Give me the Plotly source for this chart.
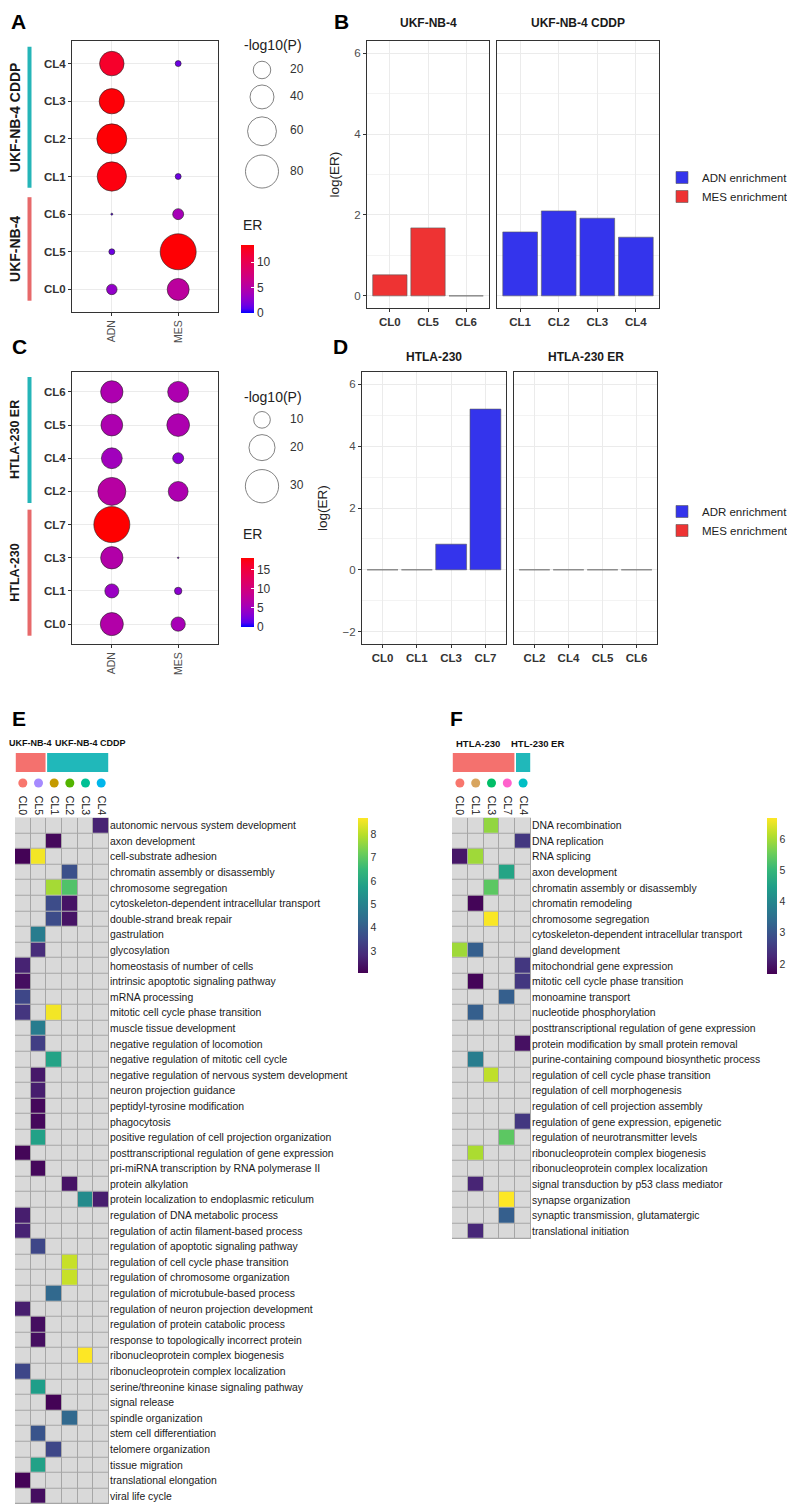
import math
import plotly.graph_objects as go

W, H = 795, 1508          # browser window
OX, OY = 8, 8             # default page margin of the html body
FW, FH = W - OX, H - OY   # figure size
FONT = "Liberation Sans, Arial, sans-serif"

# ------------------------------------------------------------------ data
# Panel A (UKF-NB-4 bubbles)
a_clusters = ["CL0", "CL5", "CL6", "CL1", "CL2", "CL3", "CL4"]
a_groups = ["ADN", "MES"]
a_adn_logp = [6.0, 1.3, 0.0, 62, 65, 45, 42]
a_mes_logp = [33, 96, 6.7, 1.3, None, None, 1.3]
a_adn_er = [3.0, 1.5, 1.0, 13.0, 13.3, 13.2, 12.0]
a_mes_er = [5.5, 13.3, 4.0, 1.5, None, None, 1.5]
a_size_legend = [20, 40, 60, 80]
a_strip_groups = [("UKF-NB-4", ["CL0", "CL5", "CL6"]), ("UKF-NB-4 CDDP", ["CL1", "CL2", "CL3", "CL4"])]

# Panel B
b_left_clusters = ["CL0", "CL5", "CL6"]
b_left_vals = [0.52, 1.68, 0.0]
b_right_clusters = ["CL1", "CL2", "CL3", "CL4"]
b_right_vals = [1.58, 2.10, 1.92, 1.45]

# Panel C (HTLA-230 bubbles)
c_clusters = ["CL0", "CL1", "CL3", "CL7", "CL2", "CL4", "CL5", "CL6"]
c_adn_logp = [16.4, 7.8, 15.6, 34.3, 22.5, 14.0, 15.0, 15.6]
c_mes_logp = [8.0, 3.5, 0.8, None, 13.0, 5.6, 16.0, 14.2]
c_adn_er = [6.5, 4.5, 6.5, 18.0, 7.0, 5.0, 6.0, 6.0]
c_mes_er = [5.5, 3.5, 3.0, None, 6.0, 3.5, 6.0, 6.0]
c_size_legend = [10, 20, 30]
c_strip_groups = [("HTLA-230", ["CL0", "CL1", "CL3", "CL7"]), ("HTLA-230 ER", ["CL2", "CL4", "CL5", "CL6"])]

# Panel D
d_left_clusters = ["CL0", "CL1", "CL3", "CL7"]
d_left_vals = [0.0, 0.0, 0.83, 5.2]
d_right_clusters = ["CL2", "CL4", "CL5", "CL6"]
d_right_vals = [0.0, 0.0, 0.0, 0.0]

# Panel E heatmap
e_columns = ["CL0", "CL5", "CL1", "CL2", "CL3", "CL4"]
e_dot_colors = ["#F8766D", "#A58AFF", "#C49A00", "#53B400", "#00C094", "#00B6EB"]
e_groups = [("UKF-NB-4", ["CL0", "CL5"]), ("UKF-NB-4 CDDP", ["CL1", "CL2", "CL3", "CL4"])]
e_terms = [
    "autonomic nervous system development", "axon development", "cell-substrate adhesion",
    "chromatin assembly or disassembly", "chromosome segregation",
    "cytoskeleton-dependent intracellular transport", "double-strand break repair",
    "gastrulation", "glycosylation", "homeostasis of number of cells",
    "intrinsic apoptotic signaling pathway", "mRNA processing",
    "mitotic cell cycle phase transition", "muscle tissue development",
    "negative regulation of locomotion", "negative regulation of mitotic cell cycle",
    "negative regulation of nervous system development", "neuron projection guidance",
    "peptidyl-tyrosine modification", "phagocytosis",
    "positive regulation of cell projection organization",
    "posttranscriptional regulation of gene expression",
    "pri-miRNA transcription by RNA polymerase II", "protein alkylation",
    "protein localization to endoplasmic reticulum", "regulation of DNA metabolic process",
    "regulation of actin filament-based process", "regulation of apoptotic signaling pathway",
    "regulation of cell cycle phase transition", "regulation of chromosome organization",
    "regulation of microtubule-based process", "regulation of neuron projection development",
    "regulation of protein catabolic process", "response to topologically incorrect protein",
    "ribonucleoprotein complex biogenesis", "ribonucleoprotein complex localization",
    "serine/threonine kinase signaling pathway", "signal release", "spindle organization",
    "stem cell differentiation", "telomere organization", "tissue migration",
    "translational elongation", "viral life cycle",
]
N = None
e_values = [
    [N, N, N, N, N, 2.7],
    [N, N, 2.2, N, N, N],
    [2.1, 8.6, N, N, N, N],
    [N, N, N, 3.7, N, N],
    [N, N, 7.8, 6.85, N, N],
    [N, N, 3.6, 2.4, N, N],
    [N, N, 3.6, 2.4, N, N],
    [N, 4.85, N, N, N, N],
    [N, 2.9, N, N, N, N],
    [2.7, N, N, N, N, N],
    [2.3, N, N, N, N, N],
    [3.5, N, N, N, N, N],
    [3.1, N, 8.6, N, N, N],
    [N, 4.85, N, N, N, N],
    [N, 3.3, N, N, N, N],
    [N, N, 5.9, N, N, N],
    [N, 2.5, N, N, N, N],
    [N, 2.6, N, N, N, N],
    [N, 2.2, N, N, N, N],
    [N, 2.2, N, N, N, N],
    [N, 5.85, N, N, N, N],
    [2.15, N, N, N, N, N],
    [N, 2.2, N, N, N, N],
    [N, N, N, 2.4, N, N],
    [N, N, N, N, 5.25, 2.6],
    [2.6, N, N, N, N, N],
    [2.7, N, N, N, N, N],
    [N, 3.5, N, N, N, N],
    [N, N, N, 8.15, N, N],
    [N, N, N, 8.15, N, N],
    [N, N, 4.3, N, N, N],
    [2.6, N, N, N, N, N],
    [N, 2.3, N, N, N, N],
    [N, 2.3, N, N, N, N],
    [N, N, N, N, 8.7, N],
    [3.5, N, N, N, N, N],
    [N, 5.75, N, N, N, N],
    [N, N, 2.1, N, N, N],
    [N, N, N, 4.3, N, N],
    [N, 3.8, N, N, N, N],
    [N, N, 3.5, N, N, N],
    [N, 5.85, N, N, N, N],
    [2.1, N, N, N, N, N],
    [N, 2.3, N, N, N, N],
]
e_ticks = [3, 4, 5, 6, 7, 8]
e_zrange = [2.06, 8.7]

# Panel F heatmap
f_columns = ["CL0", "CL1", "CL3", "CL7", "CL4"]
f_dot_colors = ["#F8766D", "#D8A55F", "#00BE67", "#FF61CC", "#00BFC4"]
f_groups = [("HTLA-230", ["CL0", "CL1", "CL3", "CL7"]), ("HTL-230 ER", ["CL4"])]
f_terms = [
    "DNA recombination", "DNA replication", "RNA splicing", "axon development",
    "chromatin assembly or disassembly", "chromatin remodeling", "chromosome segregation",
    "cytoskeleton-dependent intracellular transport", "gland development",
    "mitochondrial gene expression", "mitotic cell cycle phase transition",
    "monoamine transport", "nucleotide phosphorylation",
    "posttranscriptional regulation of gene expression",
    "protein modification by small protein removal",
    "purine-containing compound biosynthetic process",
    "regulation of cell cycle phase transition", "regulation of cell morphogenesis",
    "regulation of cell projection assembly", "regulation of gene expression, epigenetic",
    "regulation of neurotransmitter levels", "ribonucleoprotein complex biogenesis",
    "ribonucleoprotein complex localization", "signal transduction by p53 class mediator",
    "synapse organization", "synaptic transmission, glutamatergic", "translational initiation",
]
f_values = [
    [N, N, 5.85, N, N],
    [N, N, N, N, 2.5],
    [2.0, 5.95, N, N, N],
    [N, N, N, 4.6, N],
    [N, N, 5.4, N, N],
    [N, 1.75, N, N, N],
    [N, N, 6.65, N, N],
    [N, N, N, N, N],
    [5.95, 3.2, N, N, N],
    [N, N, N, N, 2.5],
    [N, 1.75, N, N, 2.5],
    [N, N, N, 3.2, N],
    [N, 3.2, N, N, N],
    [N, N, N, N, N],
    [N, N, N, N, 1.9],
    [N, 3.8, N, N, N],
    [N, N, 6.2, N, N],
    [N, N, N, N, N],
    [N, N, N, N, N],
    [N, N, N, N, 2.5],
    [N, N, N, 5.4, N],
    [N, 6.05, N, N, N],
    [N, N, N, N, N],
    [N, 2.2, N, N, N],
    [N, N, N, 6.68, N],
    [N, N, N, 3.2, N],
    [N, 2.25, N, N, N],
]
f_ticks = [2, 3, 4, 5, 6]
f_zrange = [1.69, 6.68]

# ------------------------------------------------------------------ helpers
def px(x):
    return (x - OX) / FW


def py(y):
    return 1 - (y - OY) / FH


def xd(a, b):
    return [px(a), px(b)]


def yd(top, bottom):
    return [py(bottom), py(top)]


def _lin(c):
    c = c / 255.0
    return c / 12.92 if c <= 0.04045 else ((c + 0.055) / 1.055) ** 2.4


def _gam(c):
    c = max(0.0, min(1.0, c))
    v = 12.92 * c if c <= 0.0031308 else 1.055 * c ** (1 / 2.4) - 0.055
    return int(round(max(0.0, min(1.0, v)) * 255))


def rgb_to_lab(rgb):
    r, g, b = [_lin(v) for v in rgb]
    X = (0.4124 * r + 0.3576 * g + 0.1805 * b) / 0.95047
    Y = (0.2126 * r + 0.7152 * g + 0.0722 * b)
    Z = (0.0193 * r + 0.1192 * g + 0.9505 * b) / 1.08883
    f = lambda t: t ** (1 / 3) if t > 0.008856 else 7.787 * t + 16 / 116
    fx, fy, fz = f(X), f(Y), f(Z)
    return (116 * fy - 16, 500 * (fx - fy), 200 * (fy - fz))


def lab_to_hex(lab):
    L, a, b = lab
    fy = (L + 16) / 116
    fx = fy + a / 500
    fz = fy - b / 200
    finv = lambda t: t ** 3 if t ** 3 > 0.008856 else (t - 16 / 116) / 7.787
    X, Y, Z = finv(fx) * 0.95047, finv(fy), finv(fz) * 1.08883
    r = 3.2406 * X - 1.5372 * Y - 0.4986 * Z
    g = -0.9689 * X + 1.8758 * Y + 0.0415 * Z
    bb = 0.0557 * X - 0.2040 * Y + 1.0570 * Z
    return "#%02x%02x%02x" % (_gam(r), _gam(g), _gam(bb))


def lab_scale(c0, c1, n=16):
    l0, l1 = rgb_to_lab(c0), rgb_to_lab(c1)
    out = []
    for i in range(n + 1):
        t = i / n
        out.append([t, lab_to_hex(tuple(l0[k] + (l1[k] - l0[k]) * t for k in range(3)))])
    return out


ER_SCALE = lab_scale((0, 0, 255), (255, 0, 0))


def size_a(v):
    return max(1.5, 2 + 3.47 * math.sqrt(v))


def size_c(v):
    return max(1.5, -6 + 7.17 * math.sqrt(v))


GRID = "#EBEBEB"
BORDER = "#333333"
TICKC = "#4D4D4D"

fig = go.Figure()
annotations = []
shapes = []


def panel_letter(t, x, y, anchor="middle"):
    annotations.append(dict(text="<b>%s</b>" % t, x=px(x), y=py(y), xref="paper", yref="paper",
                            showarrow=False, xanchor="left", yanchor=anchor,
                            font=dict(size=21, color="black", family=FONT)))


def ann(text, x, y, size, bold=False, xanchor="center", angle=0, color="#1a1a1a"):
    annotations.append(dict(text=("<b>%s</b>" % text) if bold else text, x=px(x), y=py(y),
                            xref="paper", yref="paper", showarrow=False, xanchor=xanchor,
                            yanchor="middle", textangle=angle,
                            font=dict(size=size, color=color, family=FONT)))


# ------------------------------------------------------------------ bubble panels
def bubble_panel(xa, ya, clusters, adn_p, mes_p, adn_er, mes_er, sizef, cmax, cb_mid, cb_len, ticks):
    xs, ys, ss, cs = [], [], [], []
    for grp, pv, ev in (("ADN", adn_p, adn_er), ("MES", mes_p, mes_er)):
        for cl, p, e in zip(clusters, pv, ev):
            if p is None:
                continue
            xs.append(grp)
            ys.append(cl)
            ss.append(sizef(p))
            cs.append(e)
    fig.add_trace(go.Scatter(
        x=xs, y=ys, mode="markers", xaxis=xa, yaxis=ya, showlegend=False, cliponaxis=False,
        marker=dict(size=ss, color=cs, colorscale=ER_SCALE, cmin=0, cmax=cmax, opacity=1,
                    line=dict(color="#222222", width=0.6),
                    showscale=True,
                    colorbar=dict(x=px(241), xanchor="left", xpad=0, y=py(cb_mid), yanchor="middle",
                                  len=cb_len, lenmode="pixels", thickness=13, outlinewidth=0,
                                  tickvals=ticks, ticks="inside", ticklen=3, tickcolor="white",
                                  tickfont=dict(size=12, color="#333333", family=FONT),
                                  ypad=0)),
    ))


bubble_panel("x", "y", a_clusters, a_adn_logp, a_mes_logp, a_adn_er, a_mes_er, size_a, 13.4, 279, 68, [0, 5, 10])
bubble_panel("x4", "y4", c_clusters, c_adn_logp, c_mes_logp, c_adn_er, c_mes_er, size_c, 18.0, 592.5, 69, [0, 5, 10, 15])


def size_legend(values, sizef, top, title_y):
    ds = [sizef(v) for v in values]
    ys, cur = [], top
    for d in ds:
        h = 1.3 * d
        ys.append(cur + h / 2)
        cur += h
    fig.add_trace(go.Scatter(x=[262] * len(values), y=ys, mode="markers", xaxis="x11", yaxis="y11",
                             showlegend=False, cliponaxis=False,
                             marker=dict(size=ds, color="white", line=dict(color="#222222", width=0.8))))
    fig.add_trace(go.Scatter(x=[290] * len(values), y=ys, mode="text", text=[str(v) for v in values],
                             textposition="middle right", xaxis="x11", yaxis="y11", showlegend=False,
                             cliponaxis=False, textfont=dict(size=12, color="#333333", family=FONT)))
    ann("-log10(P)", 242, title_y, 14, xanchor="left", color="#222222")


size_legend(a_size_legend, size_a, 58.6, 45)
size_legend(c_size_legend, size_c, 409, 397)
ann("ER", 241, 225, 14, xanchor="left", color="#222222")
ann("ER", 241, 534, 14, xanchor="left", color="#222222")


def strips(groups, clusters, yref, colors, label_size, lo_pad, hi_pad):
    for (name, members), col in zip(groups, colors):
        idx = [clusters.index(m) for m in members]
        y0, y1 = min(idx) - lo_pad, max(idx) + hi_pad
        shapes.append(dict(type="rect", xref="paper", yref=yref, x0=px(27.5), x1=px(31.5), y0=y0, y1=y1,
                           fillcolor=col, line=dict(width=0), layer="above"))
        annotations.append(dict(text="<b>%s</b>" % name, xref="paper", yref=yref, x=px(15),
                                y=(y0 + y1) / 2, textangle=-90, showarrow=False,
                                xanchor="center", yanchor="middle",
                                font=dict(size=label_size, color="#1a1a1a", family=FONT)))


strips(a_strip_groups, a_clusters, "y", ["#E7696A", "#25B5B8"], 14, 0.3, 0.45)
strips(c_strip_groups, c_clusters, "y4", ["#E7696A", "#25B5B8"], 12.5, 0.35, 0.45)

# ------------------------------------------------------------------ bar panels
BLUE = "#3434EC"
RED = "#EE3333"
BARLINE = dict(color="#5A5A5A", width=0.6)

fig.add_trace(go.Bar(x=b_right_clusters, y=b_right_vals, xaxis="x3", yaxis="y3", name="ADN enrichment",
                     marker=dict(color=BLUE, line=BARLINE), width=0.9, legend="legend", legendrank=1))
fig.add_trace(go.Bar(x=b_left_clusters, y=b_left_vals, xaxis="x2", yaxis="y2", name="MES enrichment",
                     marker=dict(color=RED, line=BARLINE), width=0.9, legend="legend", legendrank=2))
fig.add_trace(go.Bar(x=d_left_clusters, y=d_left_vals, xaxis="x5", yaxis="y5", name="ADR enrichment",
                     marker=dict(color=BLUE, line=BARLINE), width=0.9, legend="legend2", legendrank=1,
                     legendgroup="adr"))
fig.add_trace(go.Bar(x=d_right_clusters, y=d_right_vals, xaxis="x6", yaxis="y6", name="ADR enrichment",
                     marker=dict(color=BLUE, line=BARLINE), width=0.9, legend="legend2", showlegend=False,
                     legendgroup="adr"))
fig.add_trace(go.Bar(x=[d_right_clusters[0]], y=[None], xaxis="x6", yaxis="y6", name="MES enrichment",
                     marker=dict(color=RED, line=BARLINE), width=0.9, legend="legend2", legendrank=2))

ann("UKF-NB-4", 428, 23, 12, bold=True)
ann("UKF-NB-4 CDDP", 578, 23, 12, bold=True)
ann("HTLA-230", 434, 357, 12, bold=True)
ann("HTLA-230 ER", 585.5, 357, 12, bold=True)

# ------------------------------------------------------------------ heatmaps
def heatmap_panel(xa, ya, cols, terms, vals, zr, ticks, cb_x, cb_top, cb_bottom):
    grid = [[0 for _ in cols] for _ in terms]
    fig.add_trace(go.Heatmap(z=grid, x=cols, y=terms, xaxis=xa, yaxis=ya, showscale=False,
                             colorscale=[[0, "#D9D9D9"], [1, "#D9D9D9"]], xgap=1, ygap=1,
                             hoverinfo="skip"))
    fig.add_trace(go.Heatmap(z=vals, x=cols, y=terms, xaxis=xa, yaxis=ya, colorscale="Viridis",
                             zmin=zr[0], zmax=zr[1], xgap=1, ygap=1,
                             colorbar=dict(x=px(cb_x), xanchor="left", xpad=0, ypad=0,
                                           y=py((cb_top + cb_bottom) / 2), yanchor="middle",
                                           len=cb_bottom - cb_top, lenmode="pixels", thickness=10,
                                           outlinewidth=0, tickvals=ticks, ticks="",
                                           tickfont=dict(size=10.5, color="#333333", family=FONT))))
    shapes.append(dict(type="rect", xref=xa, yref=ya, x0=-0.5, x1=len(cols) - 0.5, y0=-0.5,
                       y1=len(terms) - 0.5, fillcolor="#A6A6A6", line=dict(color="#A6A6A6", width=1),
                       layer="below"))


heatmap_panel("x7", "y7", e_columns, e_terms, e_values, e_zrange, e_ticks, 358, 817.7, 973)
heatmap_panel("x8", "y8", f_columns, f_terms, f_values, f_zrange, f_ticks, 767, 817.7, 973.7)


def header(xa, ya, cols, colors, groups, label_x, label_size):
    fig.add_trace(go.Scatter(x=cols, y=[0.5] * len(cols), xaxis=xa, yaxis=ya, mode="markers",
                             showlegend=False, cliponaxis=False, hoverinfo="skip",
                             marker=dict(size=9, color=colors, line=dict(width=0))))
    for (name, members), col, lx in zip(groups, ["#F4716E", "#20B8BA"], label_x):
        idx = [cols.index(m) for m in members]
        shapes.append(dict(type="rect", xref=xa, yref="paper", x0=min(idx) - 0.45, x1=max(idx) + 0.45,
                           y0=py(772), y1=py(753), fillcolor=col, line=dict(width=0)))
        ann(name, lx, 743, label_size, bold=True, color="#111111")


header("x7", "y9", e_columns, e_dot_colors, e_groups, [30, 90], 9)
header("x8", "y10", f_columns, f_dot_colors, f_groups, [478, 537], 9.5)

panel_letter("A", 9, 8.5, "top")
panel_letter("B", 332, 8.5, "top")
panel_letter("C", 10, 346)
panel_letter("D", 331, 347)
panel_letter("E", 10, 718)
panel_letter("F", 448, 718)

# ------------------------------------------------------------------ axes
def cat_axis(domain, cats, rng, anchor, **kw):
    d = dict(domain=domain, type="category", categoryorder="array", categoryarray=cats, range=rng,
             anchor=anchor, showgrid=True, gridcolor=GRID, gridwidth=1, zeroline=False,
             showline=True, mirror=True, linecolor=BORDER, linewidth=1,
             ticks="outside", ticklen=3, tickcolor=BORDER, fixedrange=True)
    d.update(kw)
    return d


bold_ticks = dict(size=11.5, color="#333333", family=FONT, weight="bold")
num_ticks = dict(size=11.5, color=TICKC, family=FONT)

layout_axes = dict(
    xaxis=cat_axis(xd(72, 218), a_groups, [-0.6, 1.6], "y", tickangle=-90,
                   tickfont=dict(size=10.5, color=TICKC, family=FONT)),
    yaxis=cat_axis(yd(41, 312), a_clusters, [-0.6, 6.6], "x", tickfont=bold_ticks),
    xaxis4=cat_axis(xd(72, 218), a_groups, [-0.6, 1.6], "y4", tickangle=-90,
                    tickfont=dict(size=10.5, color=TICKC, family=FONT)),
    yaxis4=cat_axis(yd(372, 644), c_clusters, [-0.6, 7.6], "x4", tickfont=bold_ticks),
    xaxis2=cat_axis(xd(367, 489), b_left_clusters, [-0.6, 2.6], "y2", tickfont=bold_ticks),
    xaxis3=cat_axis(xd(497, 659), b_right_clusters, [-0.6, 3.6], "y3", tickfont=bold_ticks),
    xaxis5=cat_axis(xd(362, 506), d_left_clusters, [-0.6, 3.6], "y5", tickfont=bold_ticks),
    xaxis6=cat_axis(xd(514, 657), d_right_clusters, [-0.6, 3.6], "y6", tickfont=bold_ticks),
)


def val_axis(domain, rng, anchor, show_labels, title=None):
    d = dict(domain=domain, range=rng, anchor=anchor, dtick=2, tick0=0, showgrid=True, gridcolor=GRID,
             gridwidth=1, zeroline=False, showline=True, mirror=True, linecolor=BORDER, linewidth=1,
             ticks="outside" if show_labels else "", ticklen=3, tickcolor=BORDER,
             showticklabels=show_labels, tickfont=num_ticks, fixedrange=True,
             minor=dict(dtick=1, tick0=0, showgrid=True, gridcolor="#F3F3F3", gridwidth=0.6))
    if title:
        d["title"] = dict(text=title, font=dict(size=13.5, color="#222222", family=FONT), standoff=11)
    return d


layout_axes.update(
    yaxis2=val_axis(yd(41, 308), [-0.3, 6.3], "x2", True, "log(ER)"),
    yaxis3=val_axis(yd(41, 308), [-0.3, 6.3], "x3", False),
    yaxis5=val_axis(yd(372, 644), [-2.4, 6.4], "x5", True, "log(ER)"),
    yaxis6=val_axis(yd(372, 644), [-2.4, 6.4], "x6", False),
)


def hm_x(domain, cols, anchor):
    return dict(domain=domain, type="category", categoryorder="array", categoryarray=cols,
                range=[-0.5, len(cols) - 0.5], anchor=anchor, side="top", tickangle=90,
                showgrid=False, zeroline=False, showline=False, ticks="",
                tickfont=dict(size=10.5, color="#111111", family=FONT), fixedrange=True)


def hm_y(domain, terms, anchor):
    return dict(domain=domain, type="category", categoryorder="array", categoryarray=terms,
                range=[len(terms) - 0.5, -0.5], anchor=anchor, side="right", showgrid=False,
                zeroline=False, showline=False, ticks="",
                tickfont=dict(size=10.4, color="#1a1a1a", family=FONT), fixedrange=True)


layout_axes.update(
    xaxis7=hm_x(xd(15, 109), e_columns, "y7"),
    yaxis7=hm_y(yd(817.7, 1504), e_terms, "x7"),
    xaxis8=hm_x(xd(452, 531), f_columns, "y8"),
    yaxis8=hm_y(yd(817.7, 1239), f_terms, "x8"),
    yaxis9=dict(domain=yd(776, 790), range=[0, 1], anchor="x7", visible=False, fixedrange=True),
    yaxis10=dict(domain=yd(776, 790), range=[0, 1], anchor="x8", visible=False, fixedrange=True),
    xaxis11=dict(domain=[0, 1], range=[OX, W], anchor="y11", visible=False, fixedrange=True),
    yaxis11=dict(domain=[0, 1], range=[H, OY], anchor="x11", visible=False, fixedrange=True),
)

legend_style = dict(xanchor="left", yanchor="top", bgcolor="rgba(0,0,0,0)", borderwidth=0,
                    font=dict(size=11.5, color="#222222", family=FONT), traceorder="normal",
                    itemclick=False, itemdoubleclick=False, tracegroupgap=0)

fig.update_layout(
    width=FW, height=FH, autosize=False,
    margin=dict(l=0, r=0, t=0, b=0, pad=0),
    paper_bgcolor="white", plot_bgcolor="rgba(0,0,0,0)",
    font=dict(family=FONT, color="#222222"),
    showlegend=True,
    legend=dict(x=px(662), y=py(163), **legend_style),
    legend2=dict(x=px(662), y=py(497), **legend_style),
    annotations=annotations,
    shapes=shapes,
    barmode="overlay",
    **layout_axes,
)

fig.write_html("out.html")
